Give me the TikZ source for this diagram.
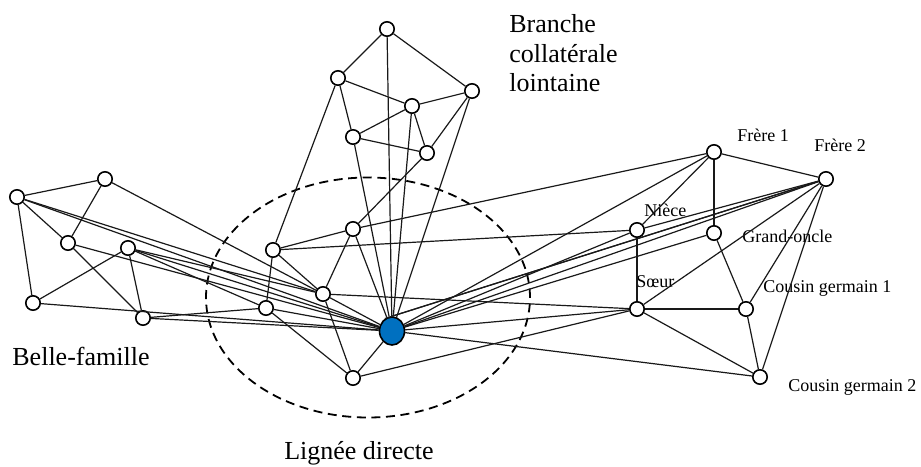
\documentclass[tikz,border=0pt]{standalone}
\usepackage{fontspec}
\setmainfont{Liberation Serif}
\usetikzlibrary{shapes.geometric}
\definecolor{egoblue}{RGB}{0,112,192}
\tikzset{
  pers/.style={circle, draw=black, line width=0.8pt, fill=white, minimum size=7.2pt, inner sep=0pt},
  ego/.style={ellipse, draw=black, line width=0.8pt, fill=egoblue, minimum width=12.5pt,
    minimum height=14pt, inner sep=0pt},
  lien/.style={line width=0.6pt, black!90},
  groupe/.style={line width=0.9pt, dash pattern=on 4.5pt off 2.8pt},
  nom/.style={font=\fontsize{9}{10}\selectfont, inner sep=0pt, anchor=base west},
  zone/.style={font=\fontsize{13}{14.8}\selectfont, inner sep=0pt}
}
\begin{document}
\begin{tikzpicture}[x=0.5pt, y=-0.5pt]
  \useasboundingbox (0,0) rectangle (921,466);
  \draw[groupe] (368,297.5) ellipse [x radius=81pt, y radius=60pt];

  \node[ego] (ego) at (392,331) {};
  \node[pers] (b1) at (387,29) {};
  \node[pers] (b2) at (338,78) {};
  \node[pers] (b3) at (472,91) {};
  \node[pers] (b4) at (412,106) {};
  \node[pers] (b5) at (353,137) {};
  \node[pers] (b6) at (427,153) {};
  \node[pers] (d1) at (273,250) {};
  \node[pers] (d2) at (353,229) {};
  \node[pers] (d3) at (323,294) {};
  \node[pers] (d4) at (266,308) {};
  \node[pers] (d5) at (353,378) {};
  \node[pers] (f1) at (17,197) {};
  \node[pers] (f2) at (105,179) {};
  \node[pers] (f3) at (68,243) {};
  \node[pers] (f4) at (128,248) {};
  \node[pers] (f5) at (33,303) {};
  \node[pers] (f6) at (143,318) {};
  \node[pers] (frere1) at (714,152) {};
  \node[pers] (frere2) at (826,179) {};
  \node[pers] (niece) at (637,230) {};
  \node[pers] (oncle) at (714,233) {};
  \node[pers] (soeur) at (637,309) {};
  \node[pers] (cousin1) at (746,309) {};
  \node[pers] (cousin2) at (760,377) {};

  \node[nom] (lfrere1) at (737,141.5) {Frère 1};
  \node[nom] (lfrere2) at (814,151.7) {Frère 2};
  \node[nom] (lniece) at (644,216) {Nièce};
  \node[nom] (loncle) at (742,242.7) {Grand-oncle};
  \node[nom] (lsoeur) at (636,287.3) {Sœur};
  \node[nom] (lcousin1) at (763,292.7) {Cousin germain 1};
  \node[nom] (lcousin2) at (788,391.7) {Cousin germain 2};
  \node[zone, anchor=base west] (lbelle) at (12,365) {Belle-famille};
  \node[zone, anchor=base] (ldirecte) at (359,459) {Lignée directe};
  \node[zone, anchor=north west, align=left] (lbranche) at (509,14) {Branche\\collatérale\\lointaine};

  \draw[lien] (b1) -- (b2);
  \draw[lien] (b1) -- (b3);
  \draw[lien] (b1) -- (ego);
  \draw[lien] (b2) -- (b4);
  \draw[lien] (b2) -- (b5);
  \draw[lien] (b2) -- (d1);
  \draw[lien] (b3) -- (b4);
  \draw[lien] (b3) -- (b6);
  \draw[lien] (b3) -- (ego);
  \draw[lien] (b4) -- (b5);
  \draw[lien] (b4) -- (b6);
  \draw[lien] (b4) -- (ego);
  \draw[lien] (b5) -- (b6);
  \draw[lien] (b5) -- (ego);
  \draw[lien] (b6) -- (d2);

  \draw[lien] (f1) -- (f2);
  \draw[lien] (f1) -- (f3);
  \draw[lien] (f1) -- (f5);
  \draw[lien] (f1) -- (d3);
  \draw[lien] (f1) -- (ego);
  \draw[lien] (f2) -- (f3);
  \draw[lien] (f2) -- (d3);
  \draw[lien] (f3) -- (f6);
  \draw[lien] (f3) -- (ego);
  \draw[lien] (f4) -- (f5);
  \draw[lien] (f4) -- (f6);
  \draw[lien] (f4) -- (ego);
  \draw[lien] (f4) -- (d3);
  \draw[lien] (f4) -- (d4);
  \draw[lien] (f5) -- (ego);
  \draw[lien] (f6) -- (ego);
  \draw[lien] (f6) -- (d4);

  \draw[lien] (d1) -- (d2);
  \draw[lien] (d1) -- (d3);
  \draw[lien] (d1) -- (d4);
  \draw[lien] (d1) -- (niece);
  \draw[lien] (d2) -- (d3);
  \draw[lien] (d2) -- (ego);
  \draw[lien] (d2) -- (frere1);
  \draw[lien] (d3) -- (ego);
  \draw[lien] (d3) -- (d5);
  \draw[lien] (d3) -- (soeur);
  \draw[lien] (d4) -- (ego);
  \draw[lien] (d4) -- (d5);
  \draw[lien] (d5) -- (ego);
  \draw[lien] (d5) -- (soeur);

  \draw[lien] (frere1) -- (frere2);
  \draw[lien] (frere1) -- (oncle);
  \draw[lien] (frere1) -- (niece);
  \draw[lien] (frere1) -- (ego);
  \draw[lien] (frere2) -- (niece);
  \draw[lien] (frere2) -- (ego);
  \draw[lien] (frere2) -- (ego.north);
  \draw[lien] (frere2) -- (ego.120);
  \draw[lien] (frere2) -- (soeur);
  \draw[lien] (frere2) -- (cousin1);
  \draw[lien] (frere2) -- (cousin2);
  \draw[lien] (niece) -- (soeur);
  \draw[lien] (niece) -- (ego);
  \draw[lien] (oncle) -- (ego);
  \draw[lien] (oncle) -- (cousin1);
  \draw[lien] (soeur) -- (cousin1);
  \draw[lien] (soeur) -- (cousin2);
  \draw[lien] (soeur) -- (ego);
  \draw[lien] (cousin1) -- (cousin2);
  \draw[lien] (cousin2) -- (ego);
\end{tikzpicture}
\end{document}
